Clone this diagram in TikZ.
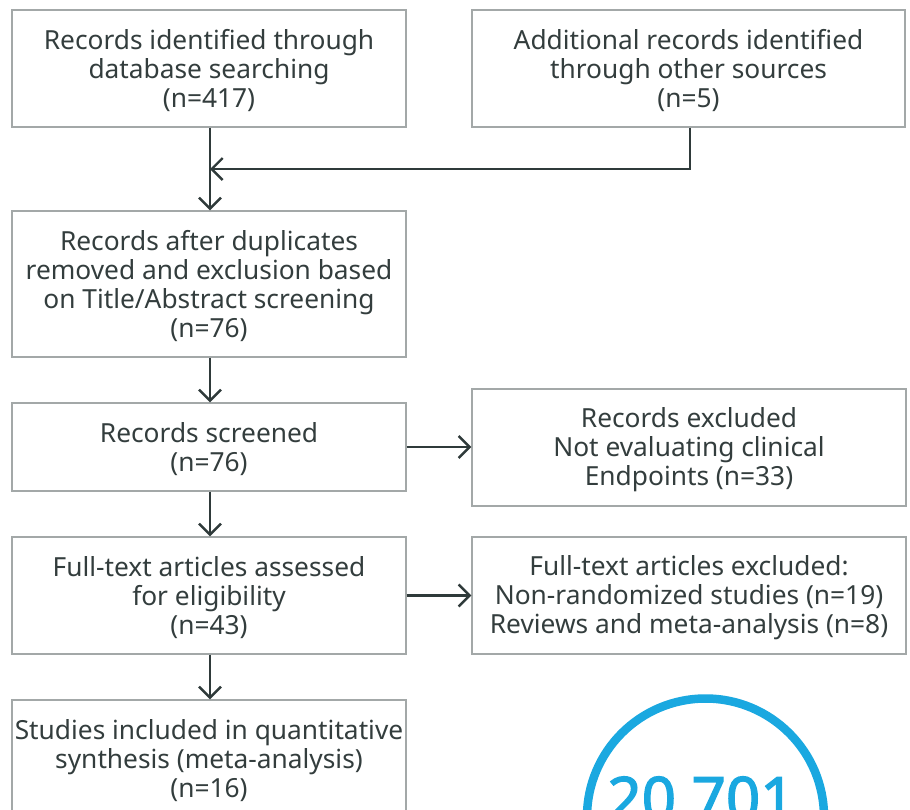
\documentclass[tikz,border=0pt]{standalone}
\usepackage{fontspec}
\setmainfont{Noto Sans}
\newfontfamily\numfont{Noto Sans}[FakeBold=2.2]
\usetikzlibrary{arrows.meta}
\definecolor{txt}{HTML}{333D3D}
\definecolor{bord}{HTML}{A3A8A8}
\definecolor{arr}{HTML}{2F3A3A}
\definecolor{cyanc}{HTML}{1AA8E0}
\begin{document}
\begin{tikzpicture}[x=1pt,y=-1pt,
  box/.style={draw=bord,line width=1.4pt,inner sep=0pt,anchor=center,
    label={[boxtext]center:#1}},
  boxtext/.style={align=center,text=txt,inner sep=0pt,yshift=-2pt,
    font=\fontsize{26.3}{29}\selectfont},
  conn/.style={draw=arr,line width=2.4pt,-{Straight Barb[length=11pt,width=22pt,line width=2.4pt]}}]
\useasboundingbox (0,0) rectangle (910,809);
\clip (0,0) rectangle (910,809);
\node[box={Records identified through\\database searching\\(n=417)},
  minimum width=394pt,minimum height=117pt] (b1) at (209,68.5) {};
\node[box={Additional records identified\\through other sources\\(n=5)},
  minimum width=433pt,minimum height=117pt] (b2) at (688.5,68.5) {};
\node[box={Records after duplicates\\removed and exclusion based\\on Title/Abstract screening\\(n=76)},
  minimum width=394pt,minimum height=146pt] (b3) at (209,284) {};
\node[box={Records screened\\(n=76)},
  minimum width=394pt,minimum height=88pt] (b4) at (209,447) {};
\node[box={Records excluded\\Not evaluating clinical\\Endpoints (n=33)},
  minimum width=434pt,minimum height=117pt] (b5) at (689,447.5) {};
\node[box={Full-text articles assessed\\for eligibility\\(n=43)},
  minimum width=394pt,minimum height=117pt] (b6) at (209,595.5) {};
\node[box={Full-text articles excluded:\\Non-randomized studies (n=19)\\Reviews and meta-analysis (n=8)},
  minimum width=434pt,minimum height=117pt] (b7) at (689,595.5) {};
\node[box={Studies included in quantitative\\synthesis (meta-analysis)\\(n=16)},
  minimum width=394pt,minimum height=117pt] (b8) at (209,758.5) {};
\coordinate (j) at (210,169);
\draw[conn] (b1.south -| j) -- (b3.north -| j);
\draw[conn] ([xshift=1.5pt]b2.south) |- (j);
\draw[conn] (b3.south -| j) -- (b4.north -| j);
\draw[conn] (b4.south -| j) -- (b6.north -| j);
\draw[conn] (b6.south -| j) -- (b8.north -| j);
\draw[conn] (b4.east) -- (b4.east -| b5.west);
\draw[conn] (b6.east) -- (b6.east -| b7.west);
\node[circle,draw=cyanc,line width=8.5pt,minimum size=237pt,inner sep=0pt] (circ) at (705.5,817) {};
\node[text=cyanc,font=\numfont\fontsize{60}{62}\selectfont,anchor=base,inner sep=0pt] (num) at (701,820) {20 701};
\end{tikzpicture}
\end{document}
